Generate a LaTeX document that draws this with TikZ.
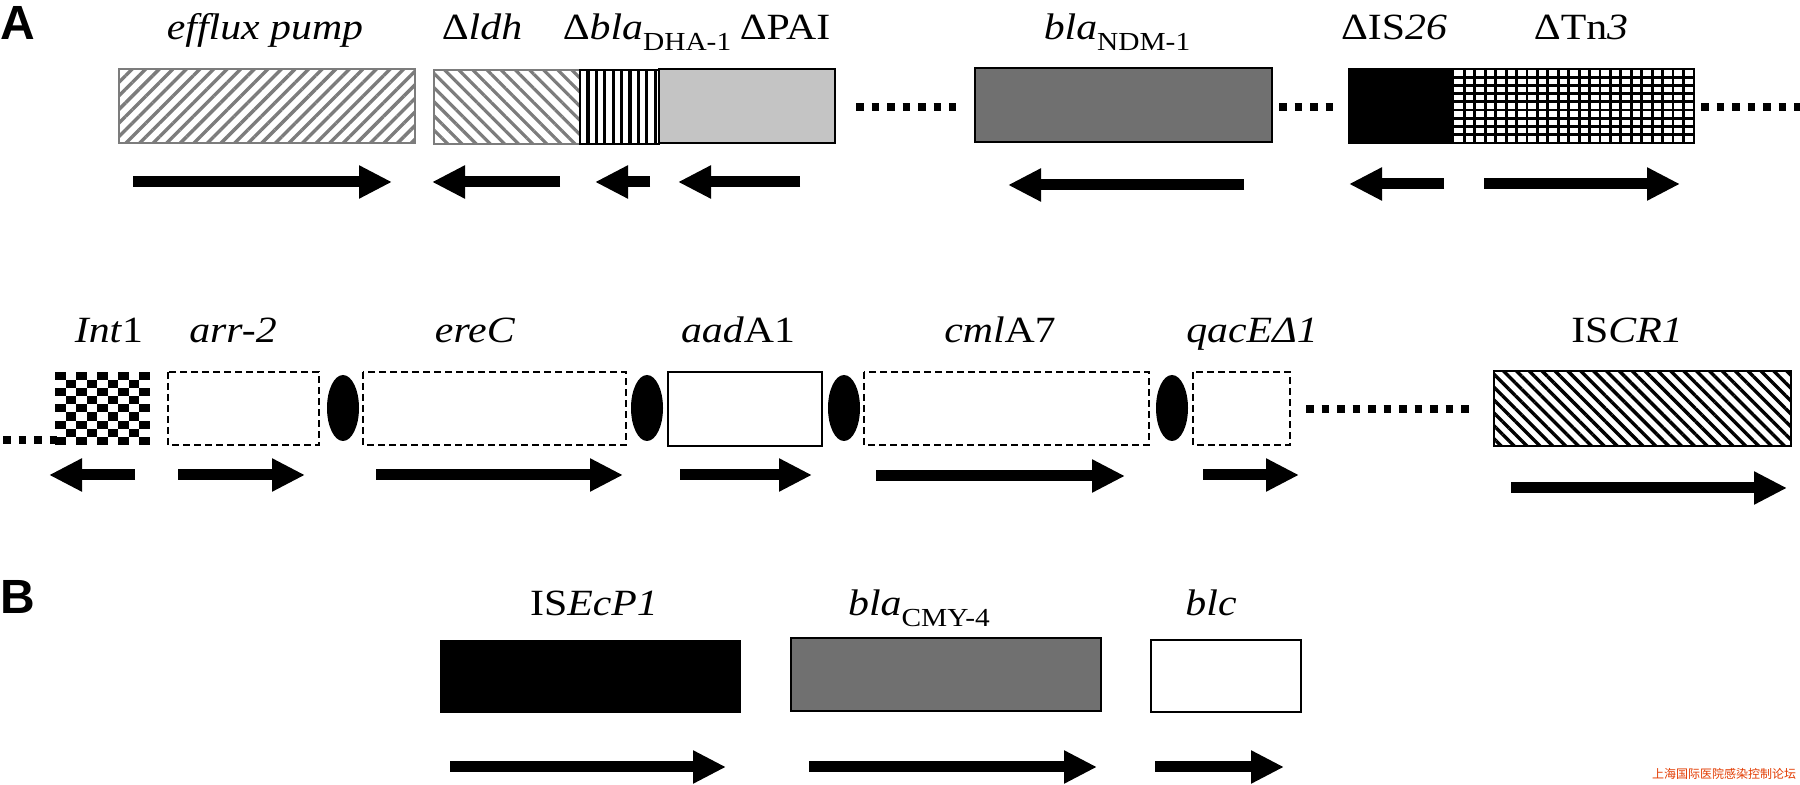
\documentclass[tikz,border=0pt]{standalone}
\usepackage{fontspec}
\setmainfont{Liberation Serif}[FakeStretch=1.13]
\newfontfamily\panelfont{Liberation Sans}
\newfontfamily\cjk{Noto Sans CJK SC}
\usetikzlibrary{arrows.meta,patterns.meta}
\definecolor{ndm}{HTML}{707070}
\definecolor{pai}{HTML}{C4C4C4}
\definecolor{hatch}{HTML}{7C7C7C}
\definecolor{wmark}{HTML}{E23A00}
\tikzset{sc/.style={x=.5pt,y=-.5pt,line width=1pt,font=\fontsize{18.5}{21}\selectfont},
  gene/.style={line width=5.5pt,-{Triangle[length=16.5pt,width=15.5pt]}},
  dots/.style={line width=3.75pt,dash pattern=on 3.75pt off 4pt},
  cass/.style={line width=1pt,dash pattern=on 3.5pt off 2pt},
  lbl/.style={anchor=base,inner sep=0pt},
  panel/.style={anchor=base west,inner sep=0pt,font=\fontsize{24}{26}\selectfont\panelfont\bfseries}}
\newcommand{\lowtxt}[1]{\raisebox{-5.5pt}{\fontsize{13}{15}\selectfont #1}}

\begin{document}
\begin{tikzpicture}[sc]
  \useasboundingbox (0,0) rectangle (1800,785);
  \node[panel] (pa) at (0,40) {A};
  \node[panel] (pb) at (0,614) {B};

  \draw[hatch,pattern={Lines[angle=45,distance=4.8pt,line width=1.7pt]},pattern color=hatch] (119,69) rectangle (415,143);
  \draw[hatch,pattern={Lines[angle=-45,distance=5pt,line width=1.6pt]},pattern color=hatch] (434,70) rectangle (580,144);
  \draw[pattern={Lines[angle=90,distance=4.2pt,line width=1.6pt]}] (580,70) rectangle (659,144);
  \draw[fill=pai] (659,69) rectangle (835,143);
  \draw[dots] (856,107)--(956,107);
  \draw[fill=ndm] (975,68) rectangle (1272,142);
  \draw[dots] (1279,107)--(1334,107);
  \fill (1349,69) rectangle (1454,143);
  \foreach \k in {1,...,22} \draw[line width=1.4pt] ({1454+\k*10.43},69)--++(0,74);
  \foreach \m in {1,...,8} \draw[line width=1.4pt] (1454,{69+\m*8.22})--++(240,0);
  \draw (1349,69) rectangle (1694,143);
  \draw[dots] (1701,107)--(1800,107);

  \node[lbl] (efflux) at (265,40) {\textit{efflux pump}};
  \node[lbl] (ldh) at (482,40) {Δ\textit{ldh}};
  \node[lbl] (dha) at (647,40) {Δ\textit{bla}\lowtxt{DHA-1}};
  \node[lbl] (pai) at (785,40) {ΔPAI};
  \node[lbl] (ndm) at (1117,40) {\textit{bla}\lowtxt{NDM-1}};
  \node[lbl] (is26) at (1394,40) {ΔIS\textit{26}};
  \node[lbl] (tn3) at (1581,40) {ΔTn\textit{3}};
  \foreach \a/\b/\y in {133/392/182,560/432/182,650/595/182,800/678/182,1244/1008/185,1444/1349/184,1484/1680/184}
    \draw[gene] (\a,\y)--(\b,\y);

  \draw[dots] (3,440)--(57,440);
  \foreach \i in {0,...,8}{\foreach \j in {0,...,8}{\pgfmathtruncatemacro\cq{mod(\i+\j,2)}
    \ifnum\cq=0 \fill ({55+\i*10.56},{372+\j*8.1}) rectangle ++(10.56,8.1);\fi}}
  \foreach \l/\r in {168/319,363/626,864/1149,1193/1290} \draw[cass] (\l,372) rectangle (\r,445);
  \draw (668,372) rectangle (822,446);
  \foreach \x in {343,647,844,1172} \fill (\x,408) ellipse [x radius=16,y radius=33];
  \draw[dots] (1306,409)--(1470,409);
  \draw[line width=1.2pt,pattern={Lines[angle=-45,distance=4.55pt,line width=1.7pt]}] (1494,371) rectangle (1791,446);

  \node[lbl] (int1) at (109,343) {\textit{Int}1};
  \node[lbl] (arr2) at (233,343) {\textit{arr-2}};
  \node[lbl] (erec) at (475,343) {\textit{ereC}};
  \node[lbl] (aada1) at (738,343) {\textit{aad}A1};
  \node[lbl] (cmla7) at (1000,343) {\textit{cml}A7};
  \node[lbl] (qace) at (1252,343) {\textit{qacEΔ1}};
  \node[lbl] (iscr1) at (1627,343) {IS\textit{CR1}};
  \foreach \a/\b/\y in {135/49/475,178/305/475,376/623/475,680/812/475,876/1125/476,1203/1299/475,1511/1787/488}
    \draw[gene] (\a,\y)--(\b,\y);

  \fill (440,640) rectangle (741,713);
  \draw[fill=ndm] (791,638) rectangle (1101,711);
  \draw (1151,640) rectangle (1301,712);
  \node[lbl] (isecp1) at (594,616) {IS\textit{EcP1}};
  \node[lbl] (cmy4) at (919,616) {\textit{bla}\lowtxt{CMY-4}};
  \node[lbl] (blc) at (1211,616) {\textit{blc}};
  \foreach \a/\b in {450/726,809/1097,1155/1284} \draw[gene] (\a,767)--(\b,767);

  \node[anchor=east,inner sep=0pt,wmark,font=\fontsize{6}{7}\selectfont\cjk] (wm) at (1797,774) {上海国际医院感染控制论坛};
\end{tikzpicture}
\end{document}
